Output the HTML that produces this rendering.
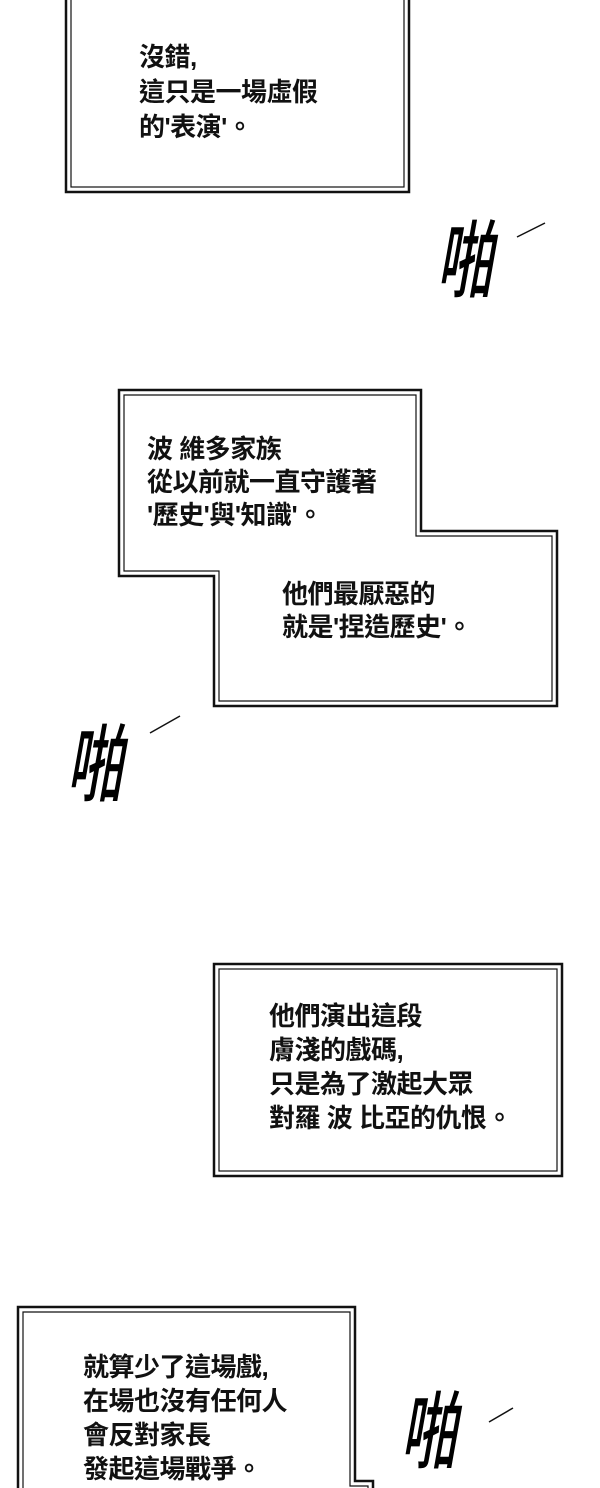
<!DOCTYPE html>
<html><head><meta charset="utf-8"><style>
html,body{margin:0;padding:0;background:#fff}
body{width:600px;height:1488px;position:relative;overflow:hidden}
svg{position:absolute;left:0;top:0}
.t{position:absolute;font-family:"Liberation Sans","Noto Sans CJK TC",sans-serif;font-weight:bold;color:#111;font-size:26px;line-height:34px;white-space:nowrap;letter-spacing:-0.5px}
.sfx{position:absolute;font-family:"Noto Sans CJK TC",sans-serif;font-weight:500;font-size:56px;color:#000;transform:skewX(-10deg) scaleY(1.5);transform-origin:left top;line-height:1}
</style></head><body>
<svg width="600" height="1488" viewBox="0 0 600 1488" fill="none" stroke="#111">
 <rect x="66" y="-5" width="343" height="197" stroke-width="2.5"/>
 <rect x="71" y="-5" width="333" height="192" stroke-width="1.2"/>
 <polygon points="119,390 421,390 421,531 557,531 557,706 214,706 214,576 119,576" stroke-width="2.5"/>
 <polygon points="124,395 416,395 416,536 552,536 552,701 219,701 219,571 124,571" stroke-width="1.2"/>
 <rect x="214" y="964" width="348" height="212" stroke-width="2.5"/>
 <rect x="219" y="969" width="338" height="202" stroke-width="1.2"/>
 <polyline points="18,1500 18,1307 355,1307 355,1481 373,1481 373,1500" stroke-width="2.5"/>
 <polyline points="23,1500 23,1312 350,1312 350,1486 368,1486 368,1500" stroke-width="1.2"/>
 <line x1="517" y1="237" x2="545" y2="223" stroke-width="1.5"/>
 <line x1="150" y1="733" x2="180" y2="716" stroke-width="1.5"/>
 <line x1="489" y1="1422" x2="513" y2="1408" stroke-width="1.5"/>
</svg>
<div class="t" style="left:139px;top:40px;line-height:35px">沒錯,<br>這只是一場虛假<br>的'表演'。</div>
<div class="t" style="left:147px;top:433px;line-height:33px">波 維多家族<br>從以前就一直守護著<br>'歷史'與'知識'。</div>
<div class="t" style="left:282px;top:578px;line-height:33px">他們最厭惡的<br>就是'捏造歷史'。</div>
<div class="t" style="left:269px;top:999px">他們演出這段<br>膚淺的戲碼,<br>只是為了激起大眾<br>對羅 波 比亞的仇恨。</div>
<div class="t" style="left:83px;top:1350px">就算少了這場戲,<br>在場也沒有任何人<br>會反對家長<br>發起這場戰爭。</div>
<div class="sfx" style="left:450px;top:214px">啪</div>
<div class="sfx" style="left:80px;top:718px">啪</div>
<div class="sfx" style="left:414px;top:1385px">啪</div>
</body></html>
